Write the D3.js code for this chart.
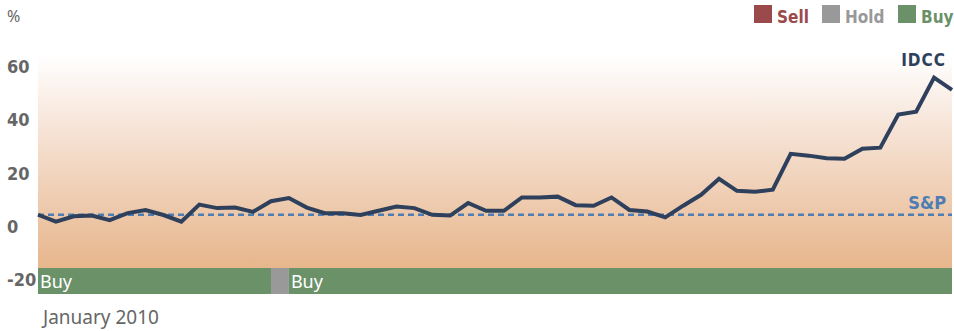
<!DOCTYPE html>
<html>
<head>
<meta charset="utf-8">
<script src="https://cdn.jsdelivr.net/npm/d3@7"></script>
<style>
  body { margin: 0; background: #fff; }
  svg { display: block; }
</style>
</head>
<body>
<svg id="chart" width="954" height="331"></svg>
<script>
// weekly relative performance of IDCC vs the S&P, in %
var idcc = [0, -2.6, -0.6, -0.3, -2.0, 0.6, 1.8, -0.1, -2.6, 3.8,
            2.5, 2.7, 1.1, 5.1, 6.3, 2.7, 0.6, 0.6, -0.1, 1.5,
            3.1, 2.5, 0, -0.3, 4.4, 1.5, 1.5, 6.5, 6.5, 6.8,
            3.6, 3.4, 6.5, 1.8, 1.2, -1.0, 3.4, 7.5, 13.5, 9.0,
            8.6, 9.4, 22.9, 22.2, 21.2, 21.0, 24.8, 25.2, 37.6, 38.7,
            51.5, 46.9];
var spValue = 0;
var yTicks = [60, 40, 20, 0, -20];
// rating periods, by week index
var ratings = [
  {start: 0, end: 13, rating: "Buy"},
  {start: 13, end: 14, rating: "Hold"},
  {start: 14, end: 51, rating: "Buy"}
];
var legendItems = ["Sell", "Hold", "Buy"];
var ratingColor = {Sell: "#9b4a4b", Hold: "#999999", Buy: "#6b9169"};
var startLabel = "January 2010";

var svg = d3.select("#chart");
var condensed = "'Liberation Sans Narrow', 'DejaVu Sans Condensed', sans-serif";

var x = d3.scaleLinear().domain([0, idcc.length - 1]).range([38, 952]);
var y = d3.scaleLinear().domain([-20, 60]).range([268, 55]);

var defs = svg.append("defs");
var grad = defs.append("linearGradient")
    .attr("id", "bg").attr("x1", 0).attr("x2", 0).attr("y1", 0).attr("y2", 1);
grad.append("stop").attr("offset", "0%").attr("stop-color", "#ffffff");
grad.append("stop").attr("offset", "35%").attr("stop-color", "#f6e3d6");
grad.append("stop").attr("offset", "100%").attr("stop-color", "#e7b68c");

svg.append("rect")
    .attr("x", x(0)).attr("y", y(60))
    .attr("width", x(idcc.length - 1) - x(0))
    .attr("height", y(-20) - y(60))
    .attr("fill", "url(#bg)");

// y labels, text hanging just under each tick
svg.selectAll("text.ytick").data(yTicks).enter().append("text")
    .attr("class", "ytick")
    .attr("x", 7)
    .attr("y", function(d) { return y(d) + 18; })
    .style("font-family", condensed)
    .style("font-weight", "bold")
    .style("font-size", "18px")
    .style("fill", "#666")
    .text(function(d) { return d; });

svg.append("text")
    .attr("x", 7).attr("y", 22)
    .style("font-family", "'Noto Sans', sans-serif")
    .style("font-size", "16px")
    .style("fill", "#666")
    .text("%");

// rating bar
svg.selectAll("rect.rating").data(ratings).enter().append("rect")
    .attr("class", "rating")
    .attr("x", function(d) { return x(d.start); })
    .attr("y", y(-20))
    .attr("width", function(d) { return x(d.end) - x(d.start); })
    .attr("height", 26)
    .attr("fill", function(d) { return ratingColor[d.rating]; });

svg.selectAll("text.rating").data(ratings.filter(function(d) { return d.rating == "Buy"; }))
    .enter().append("text")
    .attr("class", "rating")
    .attr("x", function(d) { return x(d.start) + 2; })
    .attr("y", y(-20) + 20)
    .style("font-family", "'Noto Sans', sans-serif")
    .style("font-size", "18px")
    .style("fill", "#fff")
    .text(function(d) { return d.rating; });

svg.append("text")
    .attr("x", 43).attr("y", 324)
    .style("font-family", "'Noto Sans', sans-serif")
    .style("font-size", "19px")
    .style("fill", "#666")
    .text(startLabel);

// S&P reference
svg.append("line")
    .attr("x1", x(0)).attr("x2", x(idcc.length - 1))
    .attr("y1", y(spValue)).attr("y2", y(spValue))
    .style("stroke", "#4d7db3")
    .style("stroke-width", 2.5)
    .style("stroke-dasharray", "6,4");

svg.append("text")
    .attr("x", 946).attr("y", y(spValue) - 6)
    .attr("text-anchor", "end")
    .style("font-family", condensed)
    .style("font-weight", "bold")
    .style("font-size", "18px")
    .style("fill", "#4d7db3")
    .text("S&P");

var line = d3.line()
    .x(function(d, i) { return x(i); })
    .y(function(d) { return y(d); });

svg.append("path")
    .datum(idcc)
    .attr("d", line)
    .style("fill", "none")
    .style("stroke", "#2e405c")
    .style("stroke-width", 4)
    .style("stroke-linejoin", "miter");

svg.append("text")
    .attr("x", 946).attr("y", 66)
    .attr("text-anchor", "end")
    .style("font-family", condensed)
    .style("font-weight", "bold")
    .style("font-size", "17px")
    .style("letter-spacing", "1px")
    .style("fill", "#2e405c")
    .text("IDCC");

// legend
var legendX = [754, 822, 898];
var lg = svg.selectAll("g.legend").data(legendItems).enter().append("g")
    .attr("class", "legend")
    .attr("transform", function(d, i) { return "translate(" + legendX[i] + ",5)"; });
lg.append("rect")
    .attr("width", 18).attr("height", 18)
    .attr("fill", function(d) { return ratingColor[d]; });
lg.append("text")
    .attr("x", 23).attr("y", 18)
    .style("font-family", condensed)
    .style("font-weight", "bold")
    .style("font-size", "17px")
    .style("fill", function(d) { return ratingColor[d]; })
    .text(function(d) { return d; });
</script>
</body>
</html>
